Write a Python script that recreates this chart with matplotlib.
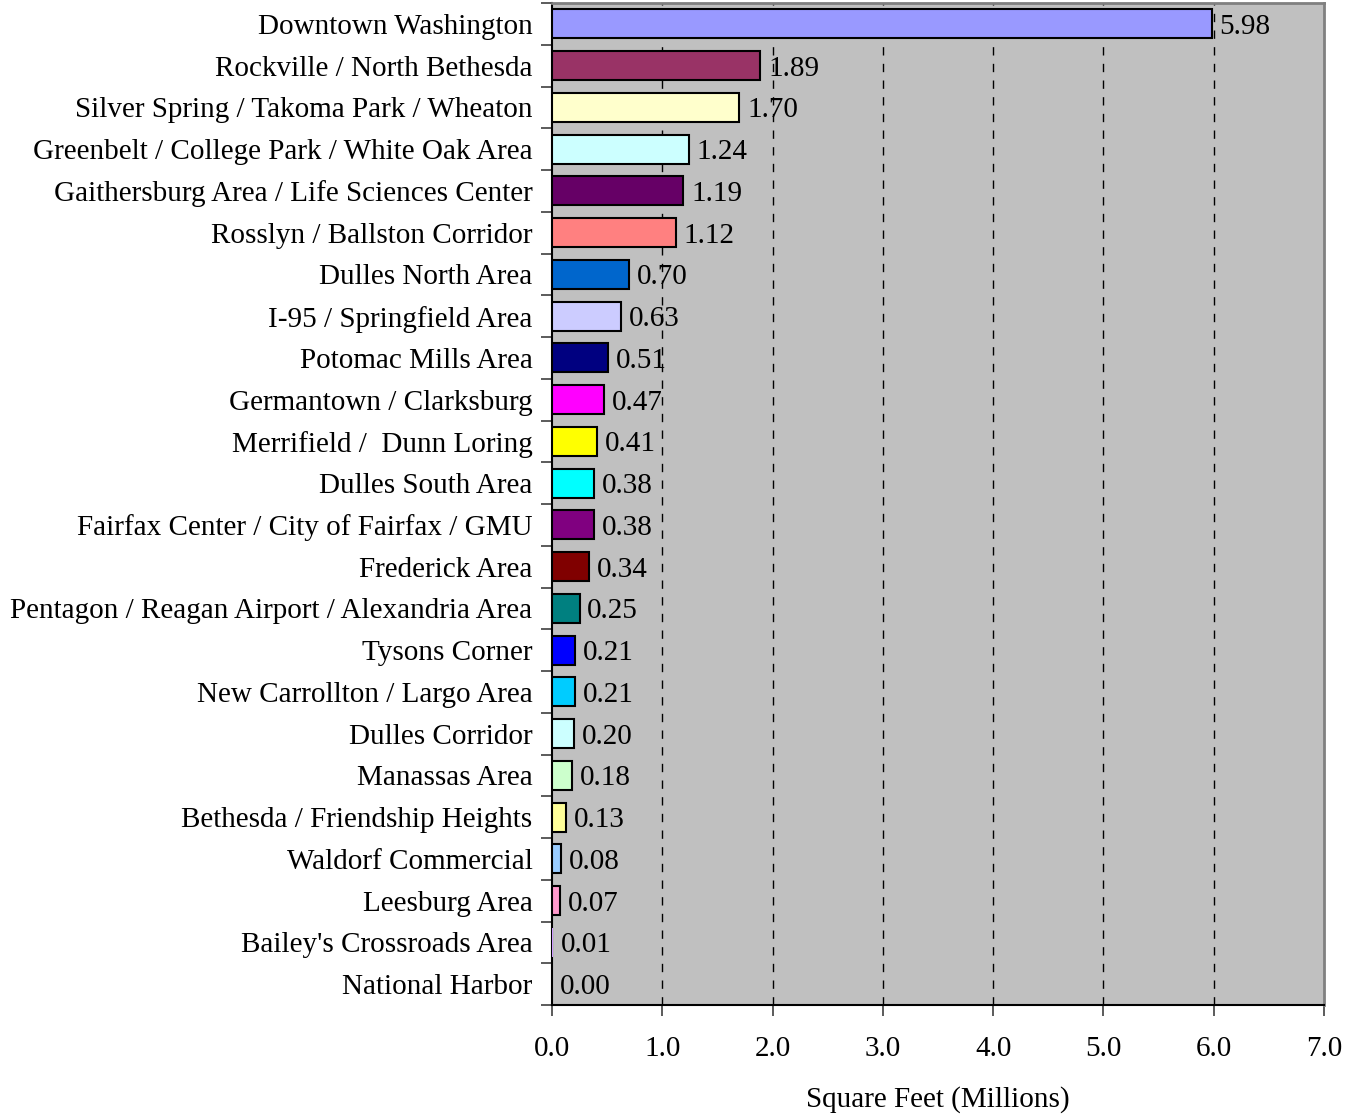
import numpy as np
import matplotlib
matplotlib.use("Agg")
import matplotlib.pyplot as plt

regions = ["Downtown Washington", "Rockville / North Bethesda",
           "Silver Spring / Takoma Park / Wheaton", "Greenbelt / College Park / White Oak Area",
           "Gaithersburg Area / Life Sciences Center", "Rosslyn / Ballston Corridor",
           "Dulles North Area", "I-95 / Springfield Area", "Potomac Mills Area",
           "Germantown / Clarksburg", "Merrifield /  Dunn Loring", "Dulles South Area",
           "Fairfax Center / City of Fairfax / GMU", "Frederick Area",
           "Pentagon / Reagan Airport / Alexandria Area", "Tysons Corner",
           "New Carrollton / Largo Area", "Dulles Corridor", "Manassas Area",
           "Bethesda / Friendship Heights", "Waldorf Commercial", "Leesburg Area",
           "Bailey's Crossroads Area", "National Harbor"]
sq_ft = [5.98, 1.89, 1.70, 1.24, 1.19, 1.12, 0.70, 0.63, 0.51, 0.47, 0.41, 0.38,
         0.38, 0.34, 0.25, 0.21, 0.21, 0.20, 0.18, 0.13, 0.08, 0.07, 0.01, 0.00]
colors = ["#9999FF", "#993366", "#FFFFCC", "#CCFFFF", "#660066", "#FF8080",
          "#0066CC", "#CCCCFF", "#000080", "#FF00FF", "#FFFF00", "#00FFFF",
          "#800080", "#800000", "#008080", "#0000FF", "#00CCFF", "#CCFFFF",
          "#CCFFCC", "#FFFF99", "#99CCFF", "#FF99CC", "#CC99FF", "#FFCC99"]

plt.rcParams['font.family'] = ['Liberation Serif', 'DejaVu Serif']
FS = 21

fig = plt.figure(figsize=(13.54, 11.14), dpi=100)
ax = fig.add_axes([552/1354, 1-1005/1114, (1324-552)/1354, (1005-3)/1114])
ax.set_facecolor("#C0C0C0")

y = np.arange(len(regions))
bars = ax.barh(y, sq_ft, height=0.7, color=colors, edgecolor="black",
               linewidth=1.5, zorder=3)
# skip outline for the empty ones
for b, v in zip(bars, sq_ft):
    if v < 0.02:
        b.set_linewidth(0)

for yi, v in zip(y, sq_ft):
    ax.text(v + 0.07, yi, f"{v:.2f}", va="center_baseline", ha="left",
            fontsize=FS, zorder=4)

ax.set_xlim(0, 7)
ax.set_ylim(len(regions) - 0.5, -0.5)
ax.set_xticks(np.arange(0, 8, 1))
ax.set_xticklabels([f"{v:.1f}" for v in range(8)], fontsize=FS)
ax.set_yticks(y)
ax.set_yticklabels(regions, fontsize=FS)
ax.set_yticks(np.arange(-0.5, len(regions), 1), minor=True)
ax.tick_params(axis="y", which="major", length=0, pad=14)
ax.tick_params(axis="y", which="minor", length=8, width=1.2, color="#404040")
ax.tick_params(axis="x", length=8, width=1.2, color="#404040", pad=14)

for xv in range(1, 7):
    ax.axvline(xv, color="black", linestyle=(0, (6, 6)), linewidth=1, zorder=1)

ax.set_xlabel("Square Feet (Millions)", fontsize=FS, labelpad=18)

for s in ["left", "bottom"]:
    ax.spines[s].set_color("black")
    ax.spines[s].set_linewidth(1.5)
for s in ["top", "right"]:
    ax.spines[s].set_color("#808080")
    ax.spines[s].set_linewidth(2)

fig.savefig("out.png", dpi=100)
